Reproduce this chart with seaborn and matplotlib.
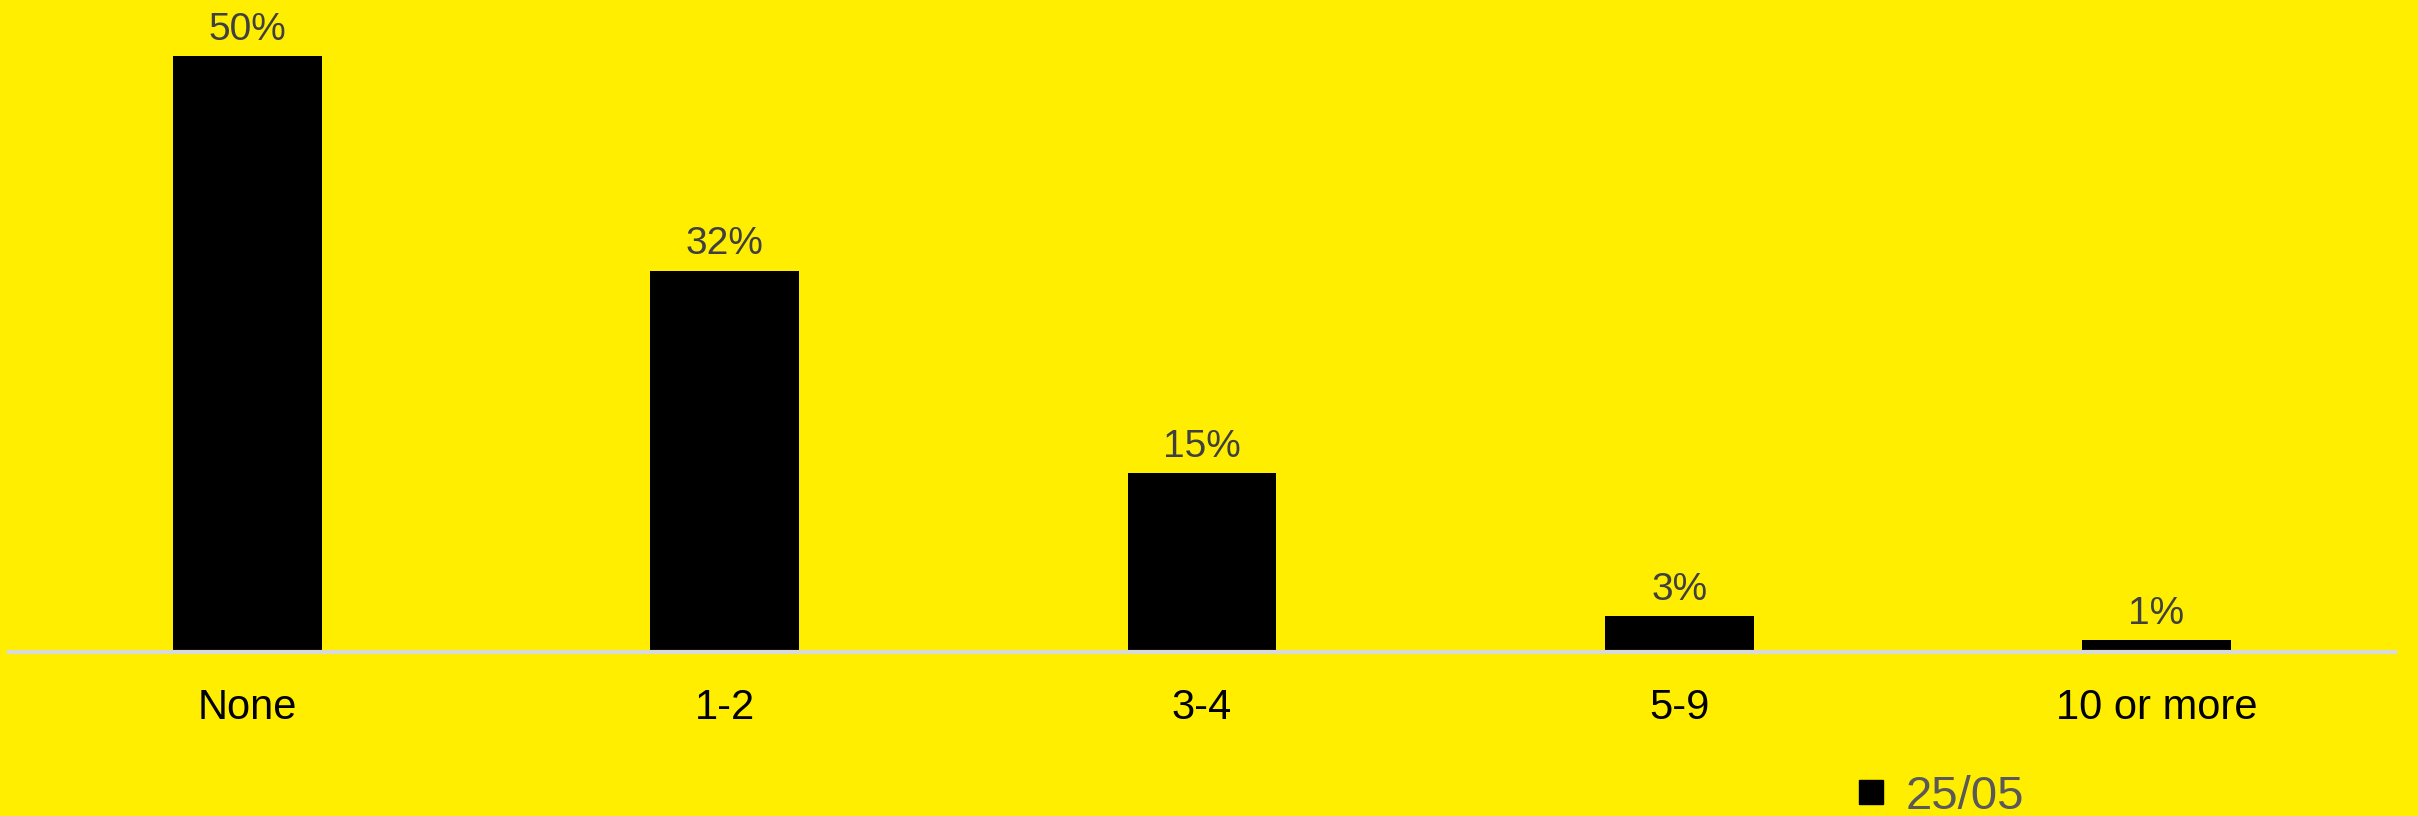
import matplotlib
matplotlib.use("Agg")
import matplotlib.pyplot as plt
import seaborn as sns
import pandas as pd
from matplotlib.lines import Line2D

categories = ["None", "1-2", "3-4", "5-9", "10 or more"]
values = [50, 32, 15, 3, 1]
series_name = "25/05"

BG = "#FFEE00"

sns.set_theme(style="white")
plt.rcParams["font.family"] = ["Liberation Sans", "DejaVu Sans"]

df = pd.DataFrame({"category": categories, "value": values, "series": series_name})

fig = plt.figure(figsize=(24.18, 8.16), dpi=100, facecolor=BG)
ax = fig.add_axes([9 / 2418, 164 / 816, 2386 / 2418, 1 - 164 / 816])
ax.set_facecolor(BG)

sns.barplot(data=df, x="category", y="value", hue="series", palette=["black"],
            width=0.312, ax=ax, legend=False, saturation=1, linewidth=0)

ax.set_xlim(-0.5, len(categories) - 0.5)
ax.set_ylim(0, 54.7)

for cont in ax.containers:
    ax.bar_label(cont, labels=[f"{v}%" for v in values], padding=6,
                 fontsize=28, color="#404040")

for s in ["top", "right", "left"]:
    ax.spines[s].set_visible(False)
ax.spines["bottom"].set_color("#D9D9D9")
ax.spines["bottom"].set_linewidth(3)
ax.set_yticks([])
ax.set_xlabel("")
ax.set_ylabel("")
ax.tick_params(axis="x", length=0, pad=26, labelsize=30, labelcolor="black")

handle = Line2D([], [], marker="s", linestyle="none", markersize=17,
                markerfacecolor="black", markeredgecolor="black")
leg = fig.legend([handle], [series_name], loc="center left",
                 bbox_to_anchor=(1847 / 2418, 1 - 797 / 816), frameon=False,
                 fontsize=34, handlelength=1.0, handletextpad=0.25,
                 borderpad=0, borderaxespad=0)
for t in leg.get_texts():
    t.set_color("#595959")

fig.savefig("out.png", dpi=100, facecolor=BG)
